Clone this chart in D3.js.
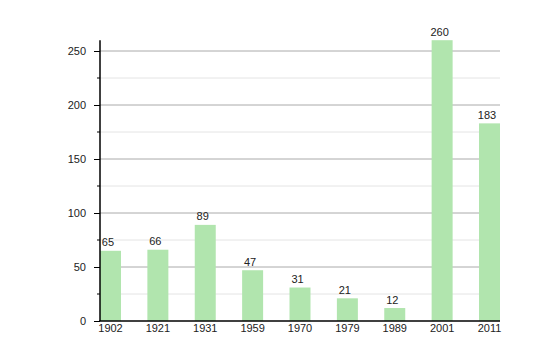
<!DOCTYPE html>
<html><head><meta charset="utf-8">
<script src="https://cdn.jsdelivr.net/npm/d3@7"></script>
<style>body{margin:0;background:#fff}svg{display:block}text{font-family:"Liberation Sans",Arial,sans-serif;fill:#222}</style>
</head><body>
<script>
const years = ["1902","1921","1931","1959","1970","1979","1989","2001","2011"];
const values = [65,66,89,47,31,21,12,260,183];
const majorTicks = [0,50,100,150,200,250];
const minorTicks = [25,75,125,175,225];

const W=540,H=360;
const svg=d3.select("body").append("svg").attr("width",W).attr("height",H);
const x=d3.scaleBand().domain(years).range([100,500]).paddingInner(0.557).paddingOuter(0);
const y=d3.scaleLinear().domain([0,260]).range([321,40.2]);

// gridlines
svg.selectAll("line.minor").data(minorTicks).enter().append("line")
 .attr("x1",100).attr("x2",500).attr("y1",d=>y(d)).attr("y2",d=>y(d))
 .attr("stroke","#e4e4e4").attr("stroke-width",1);
svg.selectAll("line.major").data(majorTicks.filter(d=>d>0)).enter().append("line")
 .attr("x1",100).attr("x2",500).attr("y1",d=>y(d)).attr("y2",d=>y(d))
 .attr("stroke","#aaa").attr("stroke-width",1);

// bars
svg.selectAll("rect.bar").data(values).enter().append("rect")
 .attr("x",(d,i)=>x(years[i])).attr("width",x.bandwidth())
 .attr("y",d=>y(d)).attr("height",d=>y(0)-y(d)).attr("fill","#b1e5ae");

// value labels
svg.selectAll("text.val").data(values).enter().append("text")
 .attr("x",(d,i)=>x(years[i])+x.bandwidth()/2-2.5).attr("y",d=>y(d)-4.5)
 .attr("text-anchor","middle").attr("font-size",11).text(d=>d);

// y axis
const yAxis=d3.axisLeft(y).tickValues(majorTicks).tickSize(6).tickPadding(8);
const ga=svg.append("g").attr("transform","translate(100,0)").call(yAxis);
ga.select(".domain").remove();
ga.selectAll("text").attr("font-size",11).attr("font-family","Liberation Sans, Arial, sans-serif").attr("fill","#222");
ga.selectAll("line").attr("stroke","#000");
svg.selectAll("line.mt").data(minorTicks).enter().append("line")
 .attr("x1",97).attr("x2",100).attr("y1",d=>y(d)).attr("y2",d=>y(d)).attr("stroke","#000");
svg.append("line").attr("x1",100).attr("x2",100).attr("y1",y(260)).attr("y2",y(0)).attr("stroke","#000").attr("stroke-width",1.5);

// x axis
const xAxis=d3.axisBottom(x).tickSize(0).tickPadding(3);
const gx=svg.append("g").attr("transform","translate(0,321)").call(xAxis);
gx.select(".domain").remove();
gx.selectAll("text").attr("font-size",11).attr("font-family","Liberation Sans, Arial, sans-serif").attr("fill","#222");
svg.append("line").attr("x1",99.25).attr("x2",500).attr("y1",321).attr("y2",321).attr("stroke","#000").attr("stroke-width",1.5);
</script>
</body></html>
